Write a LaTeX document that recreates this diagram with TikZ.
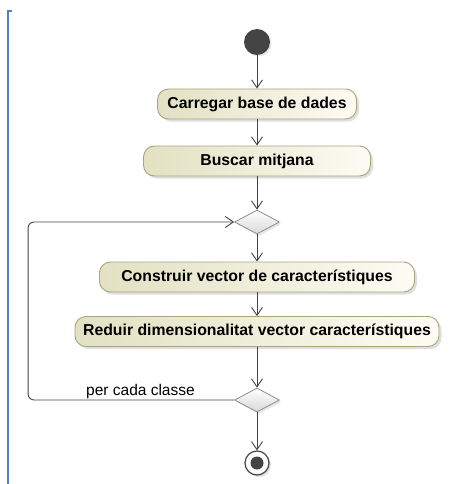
\documentclass[tikz,border=0pt]{standalone}
\usepackage{fontspec}
\setmainfont{Liberation Sans}
\usetikzlibrary{arrows.meta,shadows,shapes.geometric}

\definecolor{actleft}{HTML}{E2E1C2}
\definecolor{actright}{HTML}{FCFCF4}
\definecolor{actedge}{HTML}{A9A57C}
\definecolor{flowgray}{HTML}{444444}
\definecolor{decedge}{HTML}{8E8E8E}
\definecolor{frameblue}{HTML}{4F81C6}

\begin{document}
\begin{tikzpicture}[x=1pt,y=-1pt,
  action/.style={draw=actedge, line width=0.9pt, rounded corners=11pt,
    left color=actleft, right color=actright,
    minimum height=30pt, inner sep=0pt,
    font=\bfseries\fontsize{15.8}{18}\selectfont,
    drop shadow={opacity=0.25, shadow xshift=2.5pt, shadow yshift=-2.5pt}},
  decision/.style={diamond, draw=decedge, line width=0.8pt,
    top color=white, bottom color=black!15,
    minimum width=45pt, minimum height=24pt, inner sep=0pt,
    drop shadow={opacity=0.2, shadow xshift=2pt, shadow yshift=-2pt}},
  startnode/.style={circle, fill=flowgray, minimum size=26pt, inner sep=0pt,
    drop shadow={opacity=0.2, shadow xshift=1.5pt, shadow yshift=-1.5pt}},
  endnode/.style={circle, draw=flowgray, line width=1.2pt, fill=white,
    minimum size=24pt, inner sep=0pt,
    drop shadow={opacity=0.25, shadow xshift=2pt, shadow yshift=-2pt}},
  flow/.style={draw=flowgray, line width=0.9pt,
    -{Straight Barb[length=8pt, width=11pt, line width=0.9pt]}},
  guard/.style={font=\fontsize{15.5}{18}\selectfont, inner sep=0pt}]

  \useasboundingbox (0,0) rectangle (463,484);

  % frame edge on the left
  \draw[frameblue, line width=2pt] (12,11) -- (8,11) -- (8,484);

  % activity nodes
  \node[startnode] (start) at (257,42) {};
  \node[action, minimum width=199pt] (load) at (257,104) {Carregar base de dades};
  \node[action, minimum width=227pt] (mean) at (257,161) {Buscar mitjana};
  \node[decision] (merge) at (257,222) {};
  \node[action, minimum width=315pt] (build) at (257,277) {Construir vector de característiques};
  \node[action, minimum width=364pt] (reduce) at (257,331.5) {Reduir dimensionalitat vector característiques};
  \node[decision] (loop) at (257,400) {};
  \node[endnode] (end) at (257,463) {};
  \fill[flowgray] (end.center) circle (6.5pt);

  % control flow
  \draw[flow] (start) -- (load);
  \draw[flow] (load) -- (mean);
  \draw[flow] (mean) -- (merge);
  \draw[flow] (merge) -- (build);
  \draw[flow] (build) -- (reduce);
  \draw[flow] (reduce) -- (loop);
  \draw[flow] (loop) -- (end);
  \draw[flow, rounded corners=6pt] (loop.west) -- ++(-206,0) |- (merge.west);

  \node[guard, anchor=base west] (guardtext) at (86,395) {per cada classe};
\end{tikzpicture}
\end{document}
